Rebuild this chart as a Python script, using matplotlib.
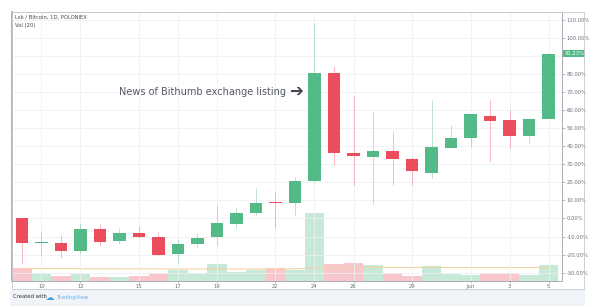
import numpy as np
import matplotlib.pyplot as plt
import matplotlib.patches as patches
from matplotlib.transforms import blended_transform_factory


# daily candles, LSK/BTC, percent change vs first open (9 May .. 5 Jun)
days = [9, 10, 11, 12, 13, 14, 15, 16, 17, 18, 19, 20, 21, 22, 23, 24, 25,
        26, 27, 28, 29, 30, 31, 1, 2, 3, 4, 5]
opens = [0.0, -13.5, -13.4, -18.0, -5.7, -12.2, -8.2, -10.3, -19.8, -14.1,
         -10.4, -3.1, 2.9, 9.0, 8.6, 20.7, 80.6, 36.2, 34.2, 37.2, 33.0, 25.4,
         39.2, 44.5, 56.8, 54.4, 45.8, 55.0]
closes = [-13.5, -12.8, -18.0, -6.0, -13.0, -8.1, -10.3, -20.0, -14.1, -10.6,
          -2.4, 2.9, 8.8, 8.6, 20.5, 80.6, 36.1, 34.4, 37.5, 33.0, 26.4, 39.4,
          44.5, 57.7, 54.0, 45.8, 55.1, 91.23]
highs = [0.0, -7.1, -9.3, -2.7, -3.3, -5.5, -4.0, -7.7, -11.4, -8.2, 7.7, 6.2,
         17.0, 14.8, 23.0, 108.0, 84.2, 67.7, 59.0, 47.6, 34.0, 65.5, 51.6,
         57.7, 65.4, 60.0, 55.1, 91.23]
lows = [-24.7, -20.9, -22.0, -19.8, -15.4, -14.3, -11.0, -21.0, -24.7, -16.5,
        -14.7, -5.5, 2.0, -5.5, 1.8, 20.0, 29.8, 18.3, 8.2, 18.3, 18.8, 22.5,
        39.0, 39.4, 31.0, 39.0, 41.8, 55.0]
volumes = [13.4, 7.7, 5.0, 7.0, 4.4, 4.0, 5.4, 7.7, 10.7, 8.4, 17.0, 9.0, 10.7,
           12.7, 11.0, 68.0, 17.4, 18.0, 16.4, 8.0, 5.0, 14.7, 7.4, 6.0, 8.0,
           8.0, 6.0, 16.0]
vol_ma = [12.4, 12.4, 12.4, 12.3, 12.3, 12.2, 12.2, 12.1, 12.1, 12.0, 12.1,
          12.0, 12.0, 12.1, 12.2, 12.8, 13.3, 13.6, 13.7, 13.6, 13.5, 13.6,
          13.5, 13.5, 13.5, 13.4, 13.4, 13.5]
tick_days = ['10', '12', '15', '17', '19', '22', '24', '26', '29', 'Jun', '3', '5']
tick_idx = [1, 3, 6, 8, 10, 13, 15, 17, 20, 23, 25, 27]

GREEN = '#53b987'
RED = '#eb4d5c'
GREY = '#6b6f78'
GRID = '#eef0f5'

x = np.arange(len(days))
up = np.array(closes) >= np.array(opens)
colors = [GREEN if u else RED for u in up]

fig = plt.figure(figsize=(5.96, 3.07), dpi=100)
ax = fig.add_axes([12 / 596, 26 / 307, 550 / 596, 269 / 307])

# volume on its own invisible axis underneath the candles
axv = ax.twinx()
axv.set_zorder(0)
ax.set_zorder(1)
ax.patch.set_visible(False)
vcol = ['#c6e9d8' if u else '#f9c6cc' for u in up]
axv.bar(x, volumes, width=1.0, color=vcol, linewidth=0)
axv.plot(x, vol_ma, color='#f2d3a4', lw=0.8)
axv.set_ylim(0, 269)
axv.set_yticks([])
for s in axv.spines.values():
    s.set_visible(False)

# candles
body_bottom = np.minimum(opens, closes)
body_h = np.maximum(np.abs(np.array(closes) - np.array(opens)), 0.6)
ax.vlines(x, lows, highs, colors=colors, lw=0.6, alpha=0.45, zorder=2)
ax.bar(x, body_h, bottom=body_bottom, width=0.64, color=colors, lw=0, zorder=3)

ax.set_xlim(-0.51, 27.69)
ax.set_ylim(-34.6, 114.3)

yt = np.arange(-30, 120, 10)
ax.set_yticks(yt)
# the 90% label sits under the last-price tag
ax.set_yticklabels(['' if v == 90 else f'{v:.2f}%' for v in yt])
ax.yaxis.tick_right()
ax.set_xticks(tick_idx)
ax.set_xticklabels(tick_days)
ax.tick_params(axis='y', labelsize=3.8, labelcolor=GREY, color='#9aa0a8',
               length=2, width=0.5, pad=1.5)
ax.tick_params(axis='x', labelsize=3.8, labelcolor=GREY, color='#9aa0a8',
               length=1.5, width=0.5, pad=1)
ax.grid(True, color=GRID, lw=0.6)
ax.set_axisbelow(True)
for k in ['left', 'right', 'bottom']:
    ax.spines[k].set_color('#a8adb5')
    ax.spines[k].set_linewidth(0.7)
ax.spines['left'].set_linewidth(1.3)
ax.spines['top'].set_color('#cfd3d9')
ax.spines['top'].set_linewidth(0.6)

# last price tag
tr = blended_transform_factory(ax.transAxes, ax.transData)
ax.text(1.004, closes[-1], f'{closes[-1]:.2f}%', transform=tr, fontsize=3.8,
        color='white', va='center', ha='left',
        bbox=dict(boxstyle='square,pad=0.25', fc=GREEN, ec='none'))

# annotation
ax.text(13.55, 70, 'News of Bithumb exchange listing', fontsize=7,
        color='#555a63', ha='right', va='center')
ax.text(13.68, 70.5, '\u2794', fontsize=12, color='#45484d', ha='left',
        va='center', fontweight='bold')

# header
fig.text(15 / 596, 1 - 17 / 307, 'Lsk / Bitcoin, 1D, POLONIEX', fontsize=3.8,
         color='#444850', va='center')
fig.text(15 / 596, 1 - 25 / 307, 'Vol (20)', fontsize=3.8, color='#444850',
         va='center')

# outer frame and price scale box
fig.patches.append(patches.Rectangle((12 / 596, 1 - 289 / 307), 572 / 596,
                                     277 / 307, transform=fig.transFigure,
                                     fill=False, ec='#c4c8ce', lw=0.6))

# footer band
fig.patches.append(patches.Rectangle((10 / 596, 1 - 306 / 307), 575 / 596,
                                     16 / 307, transform=fig.transFigure,
                                     fc='#f0f3f7', ec='none'))
fig.text(13 / 596, 1 - 297 / 307, 'Created with', fontsize=3.8,
         color='#30343a', va='center')
fig.text(46 / 596, 1 - 297 / 307, '\u2601', fontsize=6, color='#3ba0e0',
         va='center')
fig.text(57 / 596, 1 - 297 / 307, 'TradingView', fontsize=3.8,
         color='#63b4ea', va='center')

fig.savefig('out.png', dpi=100)
